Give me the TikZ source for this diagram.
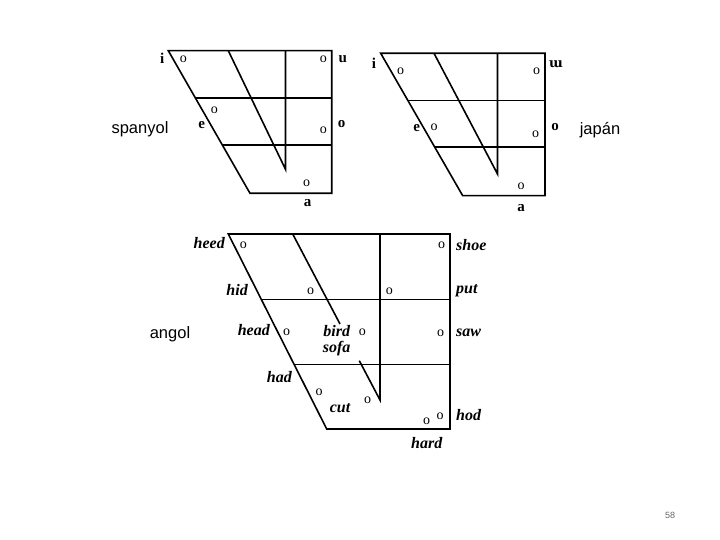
\documentclass[tikz,border=0pt]{standalone}
\usepackage{fontspec}
\setmainfont{Liberation Serif}
\newfontfamily\labsans{Liberation Sans}
\newfontfamily\ipafont{DejaVu Serif}
\begin{document}
\begin{tikzpicture}[x=1pt,y=-1pt,
  chart/.style={line width=1.6pt, line join=miter},
  vow/.style={font=\fontsize{14}{14}\selectfont, inner sep=0pt},
  lab/.style={font=\bfseries\fontsize{15}{15}\selectfont, inner sep=0pt},
  elab/.style={font=\bfseries\itshape\fontsize{16}{16}\selectfont, inner sep=0pt},
  lang/.style={font=\labsans\fontsize{16.5}{16.5}\selectfont, inner sep=0pt}]
\useasboundingbox (0,0) rectangle (720,540);
\fill[white] (0,0) rectangle (720,540);

% ---------- Spanish ----------
\coordinate (s1) at (168.3,50.7);
\coordinate (s2) at (331.7,50.7);
\coordinate (s3) at (331.7,193.3);
\coordinate (s4) at (250,193.3);
\draw[chart] (s1) -- (s2) -- (s3) -- (s4) -- cycle;
\coordinate (sh1l) at (195.6,98.3);  \coordinate (sh1r) at (331.7,98.3);
\coordinate (sh2l) at (222.3,145);   \coordinate (sh2r) at (331.7,145);
\draw[chart] (sh1l) -- (sh1r);
\draw[chart] (sh2l) -- (sh2r);
\coordinate (smt) at (228.3,50.7); \coordinate (sv) at (285.5,169.3); \coordinate (svt) at (285.5,50.7);
\draw[chart] (smt) -- (sv) -- (svt);
\node[vow] (so1) at (183.3,59.3) {o};
\node[vow] (so2) at (323.3,59.3) {o};
\node[vow] (so3) at (214.3,110.7) {o};
\node[vow] (so4) at (323.3,130) {o};
\node[vow] (so5) at (306.7,183.3) {o};
\node[lab] (si) at (162.3,58.5) {i};
\node[lab] (su) at (342.7,59) {u};
\node[lab] (se) at (201.7,125) {e};
\node[lab] (so) at (341.7,124) {o};
\node[lab] (sa) at (307.7,202.7) {a};
\node[lang] (spanyol) at (140,129) {spanyol};

% ---------- Japanese ----------
\coordinate (j1) at (380.7,53.3);
\coordinate (j2) at (545,53.3);
\coordinate (j3) at (545,195.7);
\coordinate (j4) at (462.7,195.7);
\draw[chart] (j1) -- (j2) -- (j3) -- (j4) -- cycle;
\coordinate (jh1l) at (408,100.7);  \coordinate (jh1r) at (545,100.7);
\coordinate (jh2l) at (434.8,147.3); \coordinate (jh2r) at (545,147.3);
\draw[chart] (jh1l) -- (jh1r);
\draw[chart] (jh2l) -- (jh2r);
\coordinate (jmt) at (434,53.3); \coordinate (jv) at (497.5,174); \coordinate (jvt) at (497.5,53.3);
\draw[chart] (jmt) -- (jv) -- (jvt);
\node[vow] (jo1) at (400.7,71.7) {o};
\node[vow] (jo2) at (536.7,71.7) {o};
\node[vow] (jo3) at (434,127.7) {o};
\node[vow] (jo4) at (535.7,134.3) {o};
\node[vow] (jo5) at (521,186.7) {o};
\node[lab] (ji) at (374,63.5) {i};
\node[lab] (ju) at (556,64) {\ipafont\bfseries\fontsize{13}{13}\selectfont ɯ};
\node[lab] (je) at (416.7,128.3) {e};
\node[lab] (jo) at (555,127.3) {o};
\node[lab] (ja) at (521,208.3) {a};
\node[lang] (japan) at (600,130) {japán};

% ---------- English ----------
\coordinate (e1) at (228.3,234);
\coordinate (e2) at (450,234);
\coordinate (e3) at (450,429);
\coordinate (e4) at (326.7,429);
\draw[chart] (e1) -- (e2) -- (e3) -- (e4) -- cycle;
\coordinate (eh1l) at (261.3,299.3); \coordinate (eh1r) at (450,299.3);
\coordinate (eh2l) at (294,364.3);   \coordinate (eh2r) at (450,364.3);
\draw[chart] (eh1l) -- (eh1r);
\draw[chart] (eh2l) -- (eh2r);
\coordinate (emt) at (292.7,234); \coordinate (emb) at (340,324);
\coordinate (ems) at (359.3,360.7); \coordinate (ev) at (380,400); \coordinate (evt) at (380,234);
\draw[chart] (emt) -- (emb);
\draw[chart] (ems) -- (ev) -- (evt);
\node[vow] (eo1) at (243.3,245.7) {o};
\node[vow] (eo2) at (441.7,245.7) {o};
\node[vow] (eo3) at (310.7,291.3) {o};
\node[vow] (eo4) at (389.3,291.3) {o};
\node[vow] (eo5) at (286.7,332.7) {o};
\node[vow] (eo6) at (362.3,332.3) {o};
\node[vow] (eo7) at (440.7,333.3) {o};
\node[vow] (eo8) at (319,392.3) {o};
\node[vow] (eo9) at (367.7,400) {o};
\node[vow] (eo10) at (426.7,421.7) {o};
\node[vow] (eo11) at (440,416) {o};
\node[elab, anchor=east] (heed) at (225,243) {heed};
\node[elab, anchor=east] (hid) at (248,290.5) {hid};
\node[elab, anchor=east] (head) at (270,330.5) {head};
\node[elab, anchor=east] (had) at (292,377) {had};
\node[elab] (bird) at (336.7,331) {bird};
\node[elab] (sofa) at (336.7,349) {sofa};
\node[elab] (cut) at (340,408.5) {cut};
\node[elab, anchor=west] (shoe) at (456,245.5) {shoe};
\node[elab, anchor=west] (put) at (456,291) {put};
\node[elab, anchor=west] (saw) at (456,333) {saw};
\node[elab, anchor=west] (hod) at (456,415.5) {hod};
\node[elab] (hard) at (426.7,443.5) {hard};
\node[lang] (angol) at (170,334) {angol};

\node[font=\labsans\fontsize{9}{9}\selectfont, text=black!60, inner sep=0pt] (page) at (670,515) {58};
\end{tikzpicture}
\end{document}
